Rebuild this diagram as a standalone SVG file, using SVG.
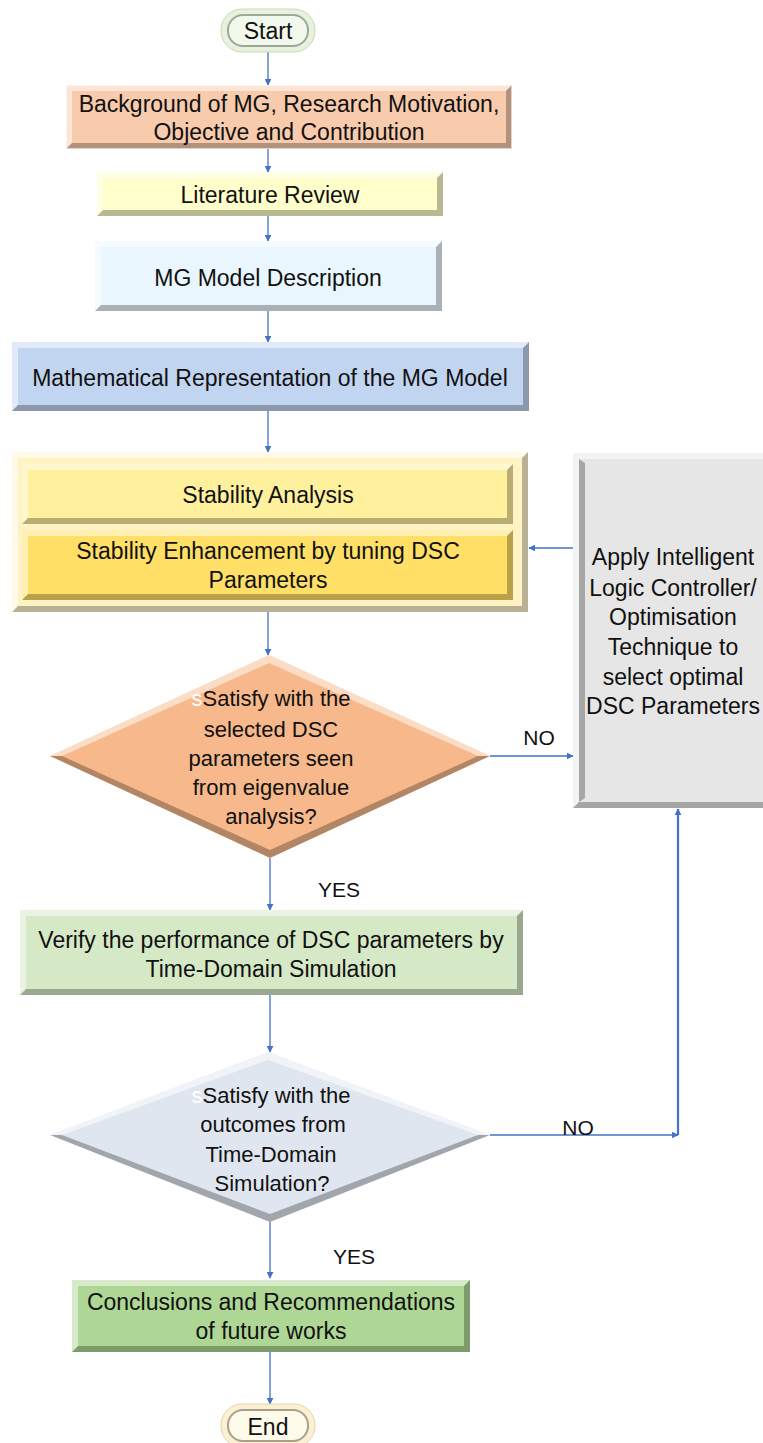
<svg xmlns="http://www.w3.org/2000/svg" width="763" height="1443" viewBox="0 0 763 1443">
  <style>
    text { font-family: "Liberation Sans", "DejaVu Sans", sans-serif; font-size: 23px; fill: #111; text-anchor: middle; dominant-baseline: central; }
    .dec { font-size: 22px; }
    .lbl { font-size: 21px; }
    .ghost { fill: #ffffff; }
    .hi { fill: #ffffff; opacity: 0.5; }
    .sh { fill: #000000; opacity: 0.28; }
    .edge { fill: none; stroke: #ffffff; stroke-opacity: 0.6; stroke-width: 1; }
    .conn { fill: none; stroke: #4472C4; stroke-width: 1.3; }
    .conn-b { fill: none; stroke: #4472C4; stroke-width: 2.2; }
  </style>
  <defs>
    <marker id="arr" viewBox="0 0 10 10" refX="9" refY="5" markerWidth="7" markerHeight="7" orient="auto" markerUnits="userSpaceOnUse">
      <path d="M0,0 L10,5 L0,10 z" fill="#4472C4"/>
    </marker>
  </defs>

  <rect width="763" height="1443" fill="#ffffff"/>

  <!-- connectors -->
  <g id="connectors">
    <path class="conn" d="M268,52 V85" marker-end="url(#arr)"/>
    <path class="conn" d="M268,149 V172" marker-end="url(#arr)"/>
    <path class="conn" d="M268,216 V241" marker-end="url(#arr)"/>
    <path class="conn" d="M268,311 V342" marker-end="url(#arr)"/>
    <path class="conn" d="M268,411 V452" marker-end="url(#arr)"/>
    <path class="conn" d="M268,612 V655" marker-end="url(#arr)"/>
    <path class="conn" d="M490,756 H573" marker-end="url(#arr)"/>
    <path class="conn" d="M573,548 H529" marker-end="url(#arr)"/>
    <path class="conn" d="M270,858 V910" marker-end="url(#arr)"/>
    <path class="conn" d="M270,995 V1052" marker-end="url(#arr)"/>
    <path class="conn" d="M490,1135 H678" marker-end="url(#arr)"/>
    <path class="conn-b" d="M678,1135 V809" marker-end="url(#arr)"/>
    <path class="conn" d="M270,1222 V1278" marker-end="url(#arr)"/>
    <path class="conn" d="M270,1352 V1404" marker-end="url(#arr)"/>
    <text class="lbl" x="539" y="737">NO</text>
    <text class="lbl" x="578" y="1127">NO</text>
    <text class="lbl" x="339" y="889">YES</text>
    <text class="lbl" x="354" y="1256">YES</text>
  </g>

  <!-- start terminator -->
  <g id="start">
    <rect x="221" y="9" width="94" height="43" rx="21" fill="#E6F2DC" stroke="#C9D9BE" stroke-width="1"/>
    <rect x="228" y="15" width="80" height="31" rx="15" fill="#F1F8EC" stroke="#9FA79A" stroke-width="2"/>
    <text x="268" y="31">Start</text>
  </g>

  <!-- background box -->
  <g id="background">
    <rect x="66" y="85" width="446" height="64" fill="#F8CBAD"/>
    <path class="hi" d="M66,85 H512 L506,91 H72 V143 L66,149 Z"/>
    <path class="sh" d="M512,85 V149 H66 L72,143 H506 V91 Z"/>
    <rect class="edge" x="66.5" y="85.5" width="445" height="63"/>
    <text x="289" y="104">Background of MG, Research Motivation,</text>
    <text x="289" y="132">Objective and Contribution</text>
  </g>

  <!-- literature review -->
  <g id="literature">
    <rect x="97" y="172" width="346" height="44" fill="#FFFFCC"/>
    <path class="hi" d="M97,172 H443 L437,178 H103 V210 L97,216 Z"/>
    <path class="sh" d="M443,172 V216 H97 L103,210 H437 V178 Z"/>
    <text x="270" y="195">Literature Review</text>
  </g>

  <!-- model description -->
  <g id="model-description">
    <rect x="95" y="241" width="347" height="70" fill="#EAF6FD"/>
    <path class="hi" d="M95,241 H442 L436,247 H101 V305 L95,311 Z"/>
    <path class="sh" d="M442,241 V311 H95 L101,305 H436 V247 Z"/>
    <text x="268" y="278">MG Model Description</text>
  </g>

  <!-- mathematical representation -->
  <g id="math-model">
    <rect x="12" y="342" width="517" height="69" fill="#C2D5F0"/>
    <path class="hi" d="M12,342 H529 L523,348 H18 V405 L12,411 Z"/>
    <path class="sh" d="M529,342 V411 H12 L18,405 H523 V348 Z"/>
    <text x="270" y="378">Mathematical Representation of the MG Model</text>
  </g>

  <!-- stability container -->
  <g id="stability">
    <rect x="12" y="452" width="516" height="160" fill="#FFF6D0"/>
    <path class="hi" d="M12,452 H528 L522,458 H18 V606 L12,612 Z"/>
    <path class="sh" d="M528,452 V612 H12 L18,606 H522 V458 Z"/>
    <rect x="18" y="458" width="504" height="148" fill="#FFF3C4"/>
    <g id="stability-analysis">
      <rect x="22" y="464" width="491" height="60" fill="#FFF09E"/>
      <path class="hi" d="M22,464 H513 L507,470 H28 V518 L22,524 Z"/>
      <path class="sh" d="M513,464 V524 H22 L28,518 H507 V470 Z"/>
      <text x="268" y="495">Stability Analysis</text>
    </g>
    <g id="stability-enhancement">
      <rect x="22" y="530" width="491" height="70" fill="#FFDF66"/>
      <path class="hi" d="M22,530 H513 L507,536 H28 V594 L22,600 Z"/>
      <path class="sh" d="M513,530 V600 H22 L28,594 H507 V536 Z"/>
      <text x="268" y="551">Stability Enhancement by tuning DSC</text>
      <text x="268" y="580">Parameters</text>
    </g>
  </g>

  <!-- optimisation box -->
  <g id="optimisation">
    <rect x="573" y="453" width="195" height="355" fill="#E7E6E6"/>
    <path class="hi" d="M573,453 H768 L763,459 H579 V802 L573,808 Z"/>
    <path class="sh" d="M768,808 H573 L579,802 H763 Z"/>
    <path class="sh" d="M579,459 V802 L585,798 V463 Z" opacity="0.15"/>
    <text x="673" y="557">Apply Intelligent</text>
    <text x="673" y="588">Logic Controller/</text>
    <text x="673" y="617">Optimisation</text>
    <text x="673" y="647">Technique to</text>
    <text x="673" y="677">select optimal</text>
    <text x="673" y="706">DSC Parameters</text>
  </g>

  <!-- decision: eigenvalue analysis -->
  <g id="decision-eigen">
    <polygon points="50,756 269,655 490,756 270,858" fill="#F7B98B"/>
    <polygon class="hi" points="50,756 269,655 490,756 478,756 269,663 62,756"/>
    <polygon class="sh" points="50,756 62,756 270,850 478,756 490,756 270,858"/>
    <text class="dec" x="271" y="698"><tspan class="ghost">s</tspan>Satisfy with the</text>
    <text class="dec" x="271" y="729">selected DSC</text>
    <text class="dec" x="271" y="758">parameters seen</text>
    <text class="dec" x="271" y="787">from eigenvalue</text>
    <text class="dec" x="271" y="816">analysis?</text>
  </g>

  <!-- verify box -->
  <g id="verify">
    <rect x="20" y="910" width="503" height="85" fill="#D6E9C6"/>
    <path class="hi" d="M20,910 H523 L517,916 H26 V989 L20,995 Z"/>
    <path class="sh" d="M523,910 V995 H20 L26,989 H517 V916 Z"/>
    <text x="271" y="940">Verify the performance of DSC parameters by</text>
    <text x="271" y="969">Time-Domain Simulation</text>
  </g>

  <!-- decision: time-domain outcomes -->
  <g id="decision-time">
    <polygon points="50,1135 268,1052 490,1135 270,1222" fill="#E0E6F0"/>
    <polygon class="hi" points="50,1135 268,1052 490,1135 478,1135 268,1060 62,1135"/>
    <polygon class="sh" points="50,1135 62,1135 270,1214 478,1135 490,1135 270,1222"/>
    <text class="dec" x="271" y="1095"><tspan class="ghost">s</tspan>Satisfy with the</text>
    <text class="dec" x="273" y="1124">outcomes from</text>
    <text class="dec" x="271" y="1154">Time-Domain</text>
    <text class="dec" x="272" y="1183">Simulation?</text>
  </g>

  <!-- conclusions -->
  <g id="conclusions">
    <rect x="72" y="1280" width="398" height="72" fill="#AED795"/>
    <path class="hi" d="M72,1280 H470 L464,1286 H78 V1346 L72,1352 Z"/>
    <path class="sh" d="M470,1280 V1352 H72 L78,1346 H464 V1286 Z"/>
    <text x="271" y="1302">Conclusions and Recommendations</text>
    <text x="271" y="1331">of future works</text>
  </g>

  <!-- end terminator -->
  <g id="end">
    <rect x="221" y="1404" width="94" height="43" rx="21" fill="#FBF0D2" stroke="#E3D6B0" stroke-width="1"/>
    <rect x="228" y="1410" width="80" height="31" rx="15" fill="#FFFBEA" stroke="#A7A08A" stroke-width="2"/>
    <text x="268" y="1427">End</text>
  </g>
</svg>
